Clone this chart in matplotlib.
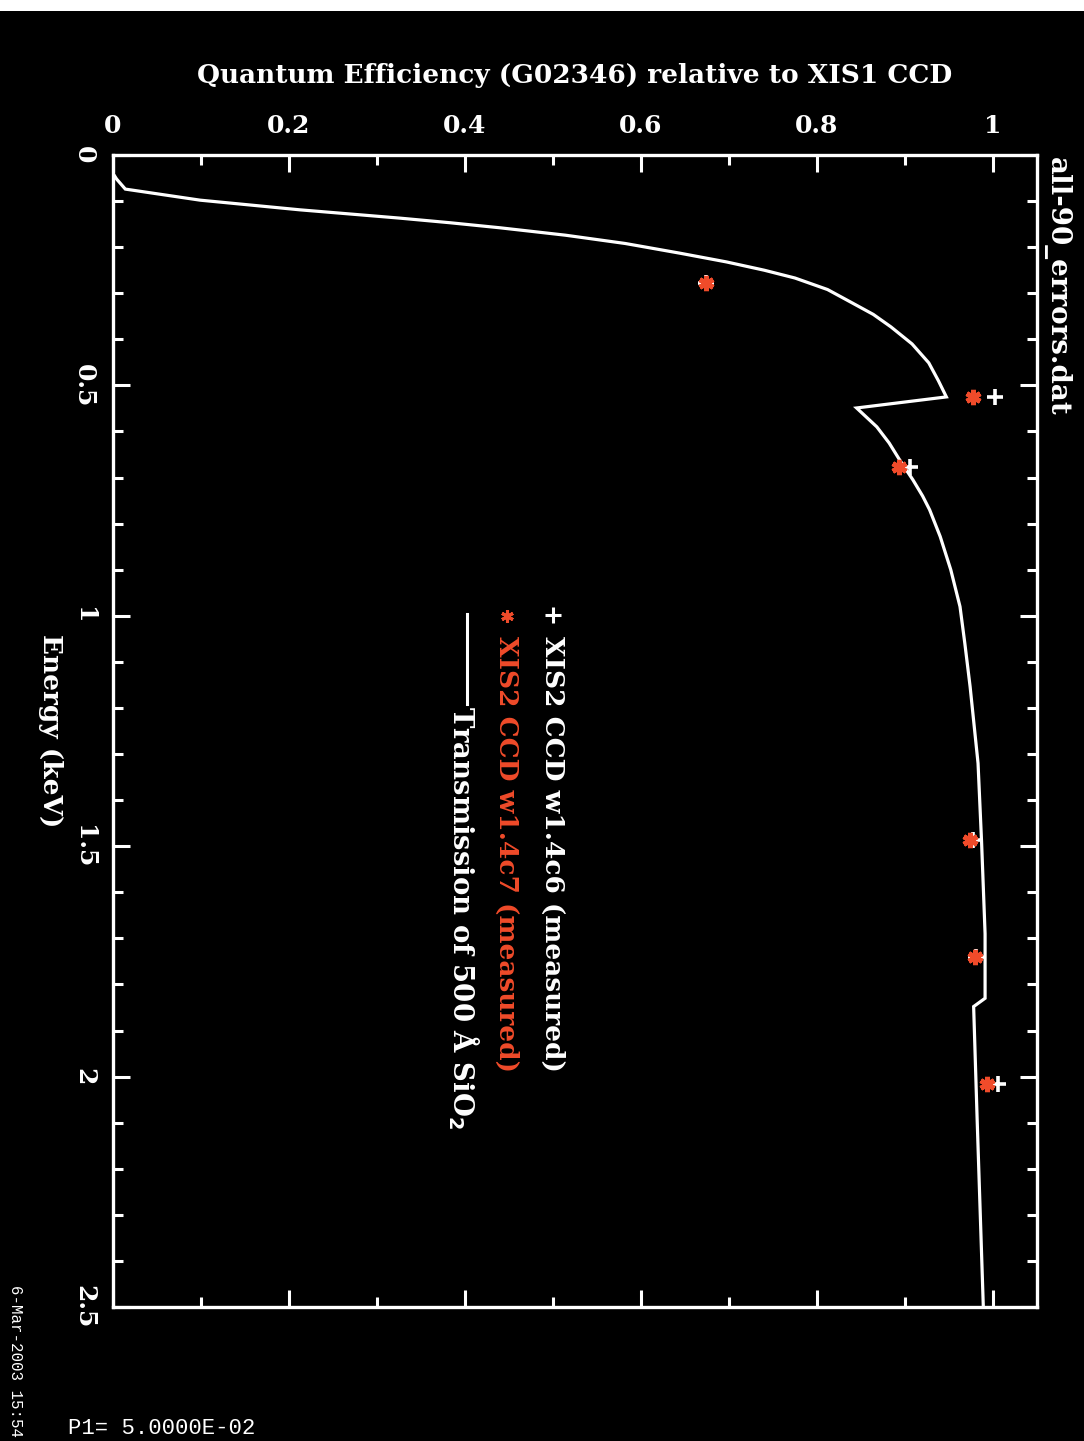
import matplotlib
matplotlib.use("Agg")
import matplotlib.pyplot as plt
from matplotlib.lines import Line2D
from matplotlib.patches import Rectangle
from matplotlib.ticker import MultipleLocator

# ---- data (energy in keV, quantum efficiency relative to XIS1) ----
energy_curve = [0.046, 0.052, 0.074, 0.098, 0.119, 0.137, 0.147, 0.158, 0.174,
                0.192, 0.213, 0.232, 0.250, 0.267, 0.292, 0.321, 0.346, 0.373,
                0.410, 0.451, 0.490, 0.525, 0.549, 0.590, 0.625, 0.662, 0.705,
                0.740, 0.770, 0.828, 0.900, 0.980, 1.060, 1.154, 1.320, 1.490,
                1.690, 1.830, 1.848, 2.094, 2.500]
trans_curve = [0.002, 0.004, 0.014, 0.099, 0.2125, 0.326, 0.383, 0.440, 0.514,
               0.582, 0.644, 0.697, 0.740, 0.775, 0.812, 0.840, 0.864, 0.884,
               0.908, 0.927, 0.938, 0.947, 0.845, 0.868, 0.882, 0.894, 0.909,
               0.920, 0.928, 0.940, 0.952, 0.9625, 0.968, 0.974, 0.983, 0.987,
               0.991, 0.991, 0.978, 0.982, 0.989]

energy_c6 = [0.278, 0.525, 0.677, 1.487, 1.740, 2.015]
qe_c6 = [0.674, 1.002, 0.906, 0.977, 0.981, 1.006]

energy_c7 = [0.278, 0.525, 0.677, 1.487, 1.740, 2.015]
qe_c7 = [0.674, 0.977, 0.893, 0.974, 0.980, 0.993]

x_ticks = [0, 0.2, 0.4, 0.6, 0.8, 1.0]
x_ticklabels = ["0", "0.2", "0.4", "0.6", "0.8", "1"]
y_ticks = [0, 0.5, 1.0, 1.5, 2.0, 2.5]
y_ticklabels = ["0", "0.5", "1", "1.5", "2", "2.5"]

RED = "#f04b2a"
W, H = 1084, 1441
FONT = "DejaVu Serif"
FS = 19


def fx(px):
    return px / W


def fy(py):
    return 1 - py / H


fig = plt.figure(figsize=(W / 100, H / 100), dpi=100, facecolor="black")
fig.add_artist(Rectangle((0, fy(11)), 1, 11 / H, transform=fig.transFigure,
                         facecolor="white", edgecolor="none"))

ax = fig.add_axes([fx(113), fy(1307), (1037 - 113) / W, (1307 - 155) / H])
ax.set_facecolor("black")

ax.plot(trans_curve, energy_curve, color="white", lw=2.3, solid_joinstyle="miter", zorder=3)
ax.plot(qe_c6, energy_c6, linestyle="none", marker="+", color="white",
        markersize=12, markeredgewidth=2.6, zorder=4)
ax.plot(qe_c7, energy_c7, linestyle="none", marker=(6, 2, 0), color=RED,
        markersize=11, markeredgewidth=3.6, zorder=5)

ax.set_xlim(0, 1.05)
ax.set_ylim(2.5, 0)

for s in ax.spines.values():
    s.set_color("white")
    s.set_linewidth(2.4)

ax.set_xticks(x_ticks, x_ticklabels)
ax.set_yticks(y_ticks, y_ticklabels)
ax.xaxis.set_minor_locator(MultipleLocator(0.1))
ax.yaxis.set_minor_locator(MultipleLocator(0.1))
ax.tick_params(which="both", direction="in", colors="white",
               top=True, bottom=True, left=True, right=True,
               labeltop=True, labelbottom=False, labelleft=True, labelright=False)
ax.tick_params(which="major", length=12, width=2.2)
ax.tick_params(which="minor", length=7, width=2.2)
ax.tick_params(axis="x", which="major", pad=12)
ax.tick_params(axis="y", which="major", pad=12)
for lab in ax.get_xticklabels():
    lab.set_fontfamily(FONT)
    lab.set_fontweight("bold")
    lab.set_fontsize(18)
for lab in ax.get_yticklabels():
    lab.set_fontfamily(FONT)
    lab.set_fontweight("bold")
    lab.set_fontsize(18)
    lab.set_rotation(-90)
    lab.set_va("center")

txt = dict(color="white", fontfamily=FONT, fontweight="bold", fontsize=FS)

fig.text(fx(575), fy(75), "Quantum Efficiency (G02346) relative to XIS1 CCD",
         ha="center", va="center", **txt)
fig.text(fx(50), fy(731), "Energy (keV)", rotation=-90, ha="center", va="center", **txt)
fig.text(fx(1057), fy(157), "all-90_errors.dat", rotation=-90, ha="center", va="top",
         color="white", fontfamily=FONT, fontweight="bold", fontsize=20)

# legend block
fig.add_artist(Line2D([fx(553)], [fy(615)], marker="+", color="white",
                      markersize=12, markeredgewidth=2.2, transform=fig.transFigure))
fig.text(fx(553), fy(636), "XIS2 CCD w1.4c6 (measured)", rotation=-90,
         ha="center", va="top", **txt)
fig.add_artist(Line2D([fx(507)], [fy(616)], marker=(6, 2, 0), color=RED,
                      markersize=9, markeredgewidth=2.2, transform=fig.transFigure))
fig.text(fx(507), fy(636), "XIS2 CCD w1.4c7 (measured)", rotation=-90,
         ha="center", va="top", color=RED, fontfamily=FONT, fontweight="bold", fontsize=FS)
fig.add_artist(Line2D([fx(467), fx(467)], [fy(614), fy(704)], color="white", lw=2.2,
                      transform=fig.transFigure))
fig.text(fx(463), fy(706), "Transmission of 500 Å SiO$_\\mathbf{2}$", rotation=-90,
         ha="center", va="top", color="white", fontfamily=FONT, fontweight="bold",
         fontsize=19.8)

# footer
fig.text(fx(15), fy(1285), "6-Mar-2003 15:54", rotation=-90, ha="center", va="top",
         color="white", fontfamily="Liberation Mono", fontsize=11.3)
fig.text(fx(68), fy(1439), "P1= 5.0000E-02", ha="left", va="bottom",
         color="white", fontfamily="Liberation Mono", fontsize=16)

fig.savefig("out.png", dpi=100, facecolor="black")
